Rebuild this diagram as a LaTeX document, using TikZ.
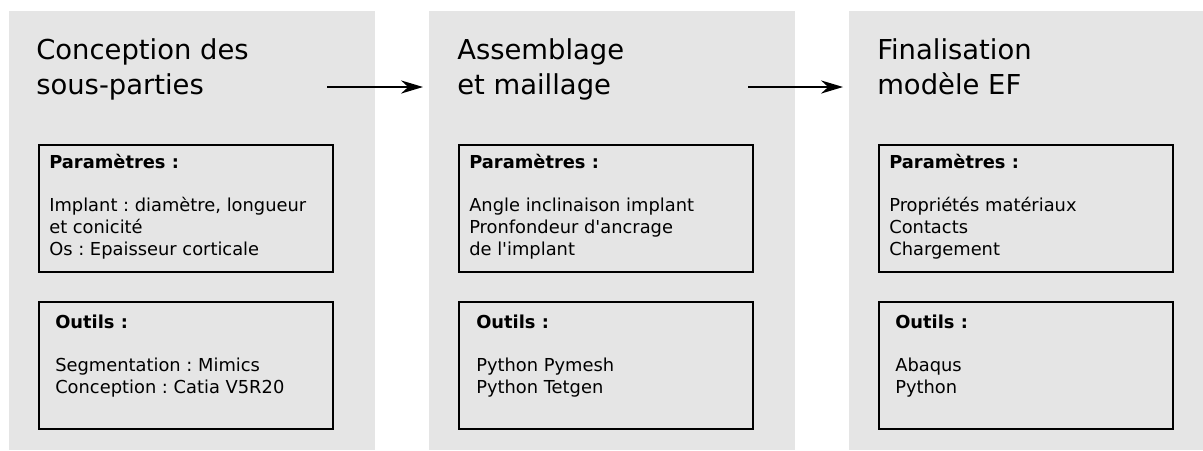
\documentclass[tikz,border=0pt]{standalone}
\usepackage{fontspec}
\setmainfont{DejaVu Sans}
\usetikzlibrary{arrows.meta}
\frenchspacing

\begin{document}
\begin{tikzpicture}[
  panel/.style={fill=gray!20, anchor=north west, minimum width=9.15cm, minimum height=10.975cm, inner sep=0},
  stage/.style={anchor=base west, align=left, inner sep=0, font=\fontsize{19.5}{24.2}\selectfont},
  infobox/.style={draw, line width=1.4pt, anchor=north west, minimum width=7.35cm, minimum height=3.175cm, inner sep=0},
  infotext/.style={anchor=base west, align=left, inner sep=0, font=\fontsize{12.7}{15.4}\selectfont},
  flow/.style={-{Stealth[length=0.55cm, width=0.33cm]}, line width=0.9pt}
]
\useasboundingbox (0,0) rectangle (30.075,-11.25);

% les trois etapes
\node[panel] (p1) at (0.225, -0.275) {};
\node[panel] (p2) at (10.725, -0.275) {};
\node[panel] (p3) at (21.225, -0.275) {};

% (base = derniere ligne)
\node[stage] (t1) at (0.9, -2.35) {Conception des\\sous-parties};
\node[stage] (t2) at (11.425, -2.35) {Assemblage\\et maillage};
\node[stage] (t3) at (21.925, -2.35) {Finalisation\\modèle EF};

% cadres
\node[infobox] (par1) at (0.95, -3.6) {};
\node[infobox] (out1) at (0.95, -7.525) {};
\node[infobox] (par2) at (11.45, -3.6) {};
\node[infobox] (out2) at (11.45, -7.525) {};
\node[infobox] (par3) at (21.95, -3.6) {};
\node[infobox] (out3) at (21.95, -7.525) {};

\node[infotext] (parT1) at (1.225, -6.375) {\textbf{Paramètres :}\\[15.4pt]Implant : diamètre, longueur\\et conicité\\Os : Epaisseur corticale};
\node[infotext] (outT1) at (1.375, -9.825) {\textbf{Outils :}\\[15.4pt]Segmentation : Mimics\\Conception : Catia V5R20};

\node[infotext] (parT2) at (11.725, -6.375) {\textbf{Paramètres :}\\[15.4pt]Angle inclinaison implant\\Pronfondeur d\textquotesingle ancrage\\de l\textquotesingle implant};
\node[infotext] (outT2) at (11.9, -9.825) {\textbf{Outils :}\\[15.4pt]Python Pymesh\\Python Tetgen};

\node[infotext] (parT3) at (22.225, -6.375) {\textbf{Paramètres :}\\[15.4pt]Propriétés matériaux\\Contacts\\Chargement};
\node[infotext] (outT3) at (22.375, -9.825) {\textbf{Outils :}\\[15.4pt]Abaqus\\Python};

% fleches
\coordinate (a1) at (8.175, -2.175);
\coordinate (b1) at (10.575, -2.175);
\coordinate (a2) at (18.7, -2.175);
\coordinate (b2) at (21.075, -2.175);
\draw[flow] (a1) -- (b1);
\draw[flow] (a2) -- (b2);

\end{tikzpicture}
\end{document}
